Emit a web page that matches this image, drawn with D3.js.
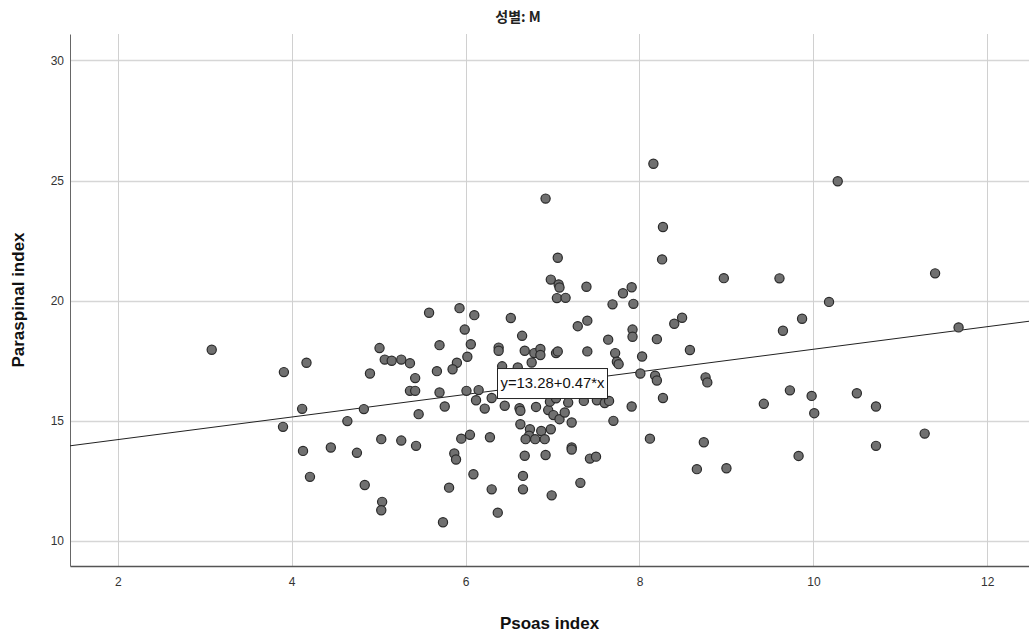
<!DOCTYPE html>
<html>
<head>
<meta charset="utf-8">
<script src="https://cdn.jsdelivr.net/npm/d3@7"></script>
<style>
  body { margin: 0; background: #fff; }
  svg { display: block; font-family: "Liberation Sans", Arial, sans-serif; }
</style>
</head>
<body>
<div id="chart"></div>
<script>
// Psoas index (x) vs Paraspinal index (y), 성별: M
const psoas = [
  3.08, 3.91, 4.17, 4.12, 3.90, 4.64, 4.13, 4.45, 4.75, 4.21,
  5.58, 5.93, 6.10, 6.52, 5.99, 5.01, 5.70, 6.06, 6.38, 6.38,
  5.07, 5.15, 5.26, 5.36, 5.90, 5.85, 6.02, 6.42, 4.90, 5.67,
  5.42, 5.36, 5.42, 5.70, 6.01, 6.15, 6.12, 6.30, 6.45, 6.22,
  5.76, 4.83, 5.46, 5.03, 5.26, 5.43, 5.95, 6.05, 6.28, 5.87,
  5.89, 6.09, 4.84, 5.81, 6.30, 5.04, 5.03, 6.37, 5.74, 6.92,
  7.06, 6.98, 7.07, 7.08, 7.39, 7.05, 7.15, 7.91, 7.81, 7.69,
  7.93, 7.29, 7.40, 7.92, 8.16, 10.28, 8.27, 8.26, 8.97, 9.61,
  10.18, 8.40, 8.49, 9.87, 9.65, 8.20, 8.58, 8.03, 8.01, 8.18,
  8.20, 8.76, 8.78, 8.27, 9.43, 9.73, 9.98, 10.01, 10.50, 10.72,
  8.12, 8.74, 8.66, 9.00, 9.83, 10.72, 11.40, 11.67, 11.28, 7.92,
  6.65, 7.64, 6.68, 6.79, 6.86, 6.86, 7.04, 7.06, 7.40, 7.72,
  6.76, 7.74, 7.76, 6.60, 6.62, 6.63, 6.81, 6.95, 7.01, 7.08,
  7.14, 7.18, 6.97, 7.04, 7.22, 7.36, 7.51, 7.60, 7.65, 7.91,
  7.70, 6.63, 6.74, 6.73, 6.87, 6.98, 6.80, 6.91, 6.69, 7.22,
  6.68, 6.92, 7.22, 7.43, 7.50, 6.66, 6.66, 6.99, 7.32
];
const paraspinal = [
  17.96, 17.03, 17.42, 15.50, 14.75, 14.99, 13.75, 13.89, 13.67, 12.67,
  19.50, 19.69, 19.40, 19.28, 18.80, 18.03, 18.15, 18.19, 18.05, 17.92,
  17.55, 17.50, 17.55, 17.40, 17.42, 17.15, 17.67, 17.27, 16.97, 17.07,
  16.78, 16.25, 16.25, 16.18, 16.25, 16.28, 15.86, 15.95, 15.63, 15.51,
  15.60, 15.49, 15.28, 14.24, 14.18, 13.96, 14.26, 14.42, 14.32, 13.64,
  13.39, 12.78, 12.33, 12.22, 12.15, 11.63, 11.28, 11.18, 10.78, 24.25,
  21.79, 20.88, 20.68, 20.55, 20.58, 20.11, 20.12, 20.56, 20.31, 19.85,
  19.87, 18.94, 19.17, 18.80, 25.70, 24.97, 23.07, 21.72, 20.94, 20.93,
  19.95, 19.04, 19.29, 19.25, 18.75, 18.40, 17.95, 17.68, 16.97, 16.88,
  16.68, 16.81, 16.60, 15.95, 15.71, 16.27, 16.04, 15.32, 16.15, 15.60,
  14.26, 14.11, 12.99, 13.03, 13.54, 13.96, 21.14, 18.89, 14.47, 18.50,
  18.54, 18.38, 17.92, 17.82, 17.99, 17.74, 17.82, 17.89, 17.89, 17.82,
  17.43, 17.46, 17.36, 17.22, 15.53, 15.42, 15.58, 15.45, 15.24, 15.07,
  15.35, 15.76, 15.80, 15.94, 14.93, 15.83, 15.86, 15.74, 15.83, 15.60,
  15.00, 14.86, 14.65, 14.38, 14.58, 14.65, 14.24, 14.24, 14.24, 13.89,
  13.55, 13.58, 13.81, 13.43, 13.51, 12.71, 12.15, 11.90, 12.42
];
const xTicks = [2, 4, 6, 8, 10, 12];
const yTicks = [10, 15, 20, 25, 30];
const fitIntercept = 13.28;
const fitSlope = 0.47;
const fitLabel = "y=13.28+0.47*x";
const chartTitle = "성별: M";
const xTitle = "Psoas index";
const yTitle = "Paraspinal index";

const width = 1029, height = 640;
const margin = { top: 34, right: 0, bottom: 74, left: 70 };

const svg = d3.select("#chart").append("svg")
  .attr("width", width)
  .attr("height", height);

const x = d3.scaleLinear()
  .domain([1.45, 12.48])
  .range([margin.left, width - margin.right]);

const y = d3.scaleLinear()
  .domain([8.96, 31.1])
  .range([height - margin.bottom, margin.top]);

const plotTop = margin.top, plotBottom = height - margin.bottom;

// grid
svg.append("g")
  .selectAll("line")
  .data(yTicks)
  .join("line")
  .attr("x1", margin.left).attr("x2", width)
  .attr("y1", d => Math.round(y(d)) + 0.5).attr("y2", d => Math.round(y(d)) + 0.5)
  .attr("stroke", "#d6d6d6").attr("stroke-width", 1.5);

svg.append("g")
  .selectAll("line")
  .data(xTicks)
  .join("line")
  .attr("x1", d => Math.round(x(d)) + 0.5).attr("x2", d => Math.round(x(d)) + 0.5)
  .attr("y1", plotTop).attr("y2", plotBottom)
  .attr("stroke", "#d0d0d0").attr("stroke-width", 1);

// axes
const xAxis = svg.append("g")
  .attr("transform", `translate(0, ${plotBottom})`)
  .call(d3.axisBottom(x).tickValues(xTicks).tickSize(0).tickPadding(11));
xAxis.select(".domain").attr("stroke", "#555").attr("stroke-width", 1.5);
xAxis.selectAll("text").attr("font-size", 12).attr("fill", "#333");

const yAxis = svg.append("g")
  .attr("transform", `translate(${margin.left}, 0)`)
  .call(d3.axisLeft(y).tickValues(yTicks).tickSize(0).tickPadding(6));
yAxis.select(".domain").attr("stroke", "#666").attr("stroke-width", 1);
yAxis.selectAll("text").attr("font-size", 12).attr("fill", "#333");

// regression line
const [x0, x1] = x.domain();
svg.append("line")
  .attr("x1", x(x0)).attr("y1", y(fitIntercept + fitSlope * x0))
  .attr("x2", x(x1)).attr("y2", y(fitIntercept + fitSlope * x1))
  .attr("stroke", "#222").attr("stroke-width", 1);

// points
svg.append("g")
  .selectAll("circle")
  .data(psoas.map((d, i) => [d, paraspinal[i]]))
  .join("circle")
  .attr("cx", d => x(d[0]))
  .attr("cy", d => y(d[1]))
  .attr("r", 4.6)
  .attr("fill", "#707070")
  .attr("stroke", "#2a2a2a")
  .attr("stroke-width", 1.2);

// fit label
const lx = (x0 + x1) / 2;
const label = svg.append("g")
  .attr("transform", `translate(${x(lx) + 3}, ${y(fitIntercept + fitSlope * lx)})`);
label.append("rect")
  .attr("x", -55).attr("y", -15).attr("width", 110).attr("height", 30)
  .attr("fill", "#fff").attr("stroke", "#222").attr("stroke-width", 1);
label.append("text")
  .attr("text-anchor", "middle").attr("dy", "0.35em")
  .attr("font-size", 14).attr("fill", "#111")
  .attr("textLength", 104).attr("lengthAdjust", "spacingAndGlyphs")
  .text(fitLabel);

// titles
svg.append("text")
  .attr("x", 518).attr("y", 22)
  .attr("text-anchor", "middle")
  .attr("font-size", 14).attr("font-weight", "bold").attr("fill", "#222")
  .style("font-family", "'Noto Sans CJK KR', 'Liberation Sans', sans-serif")
  .text(chartTitle);

svg.append("text")
  .attr("x", (margin.left + width) / 2).attr("y", 629)
  .attr("text-anchor", "middle")
  .attr("font-size", 17).attr("font-weight", "bold").attr("fill", "#111")
  .text(xTitle);

svg.append("text")
  .attr("transform", `translate(24, ${(plotTop + plotBottom) / 2}) rotate(-90)`)
  .attr("text-anchor", "middle")
  .attr("font-size", 17).attr("font-weight", "bold").attr("fill", "#111")
  .text(yTitle);
</script>
</body>
</html>
